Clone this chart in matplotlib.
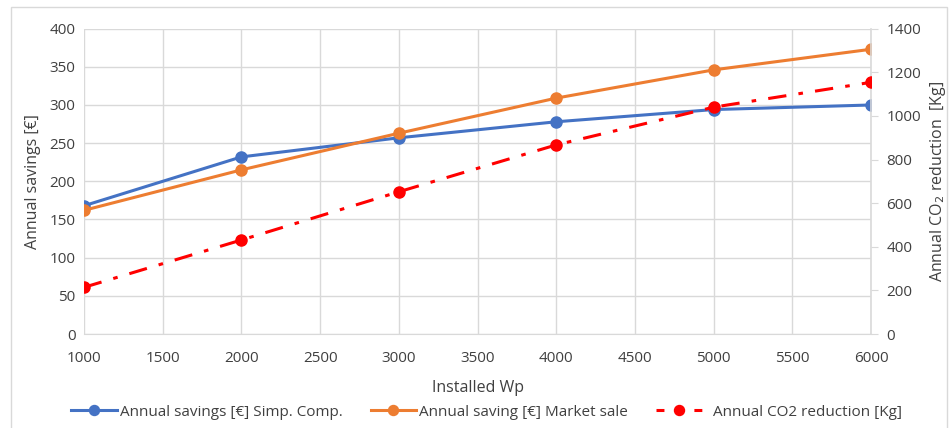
import matplotlib
matplotlib.use("Agg")
import matplotlib.pyplot as plt
from matplotlib.patches import Rectangle
from matplotlib.lines import Line2D

plt.rcParams['font.family'] = ['Open Sans', 'DejaVu Sans']

installed_wp = [1000, 2000, 3000, 4000, 5000, 6000]
savings_simp = [168, 232, 257, 278, 294, 300]
savings_market = [162, 215, 263, 309, 346, 373]
co2_reduction = [214, 431, 652, 867, 1040, 1154]

x_ticks = [1000, 1500, 2000, 2500, 3000, 3500, 4000, 4500, 5000, 5500, 6000]
left_ticks = [0, 50, 100, 150, 200, 250, 300, 350, 400]
right_ticks = [0, 200, 400, 600, 800, 1000, 1200, 1400]

blue = '#4472C4'
orange = '#ED7D31'
red = '#FF0000'
grid_c = '#D9D9D9'
text_c = '#404040'

fig = plt.figure(figsize=(9.51, 4.28), dpi=100)
fig.patches.append(Rectangle((11 / 951, -0.05), 936 / 951, 1.05 - 7 / 428, transform=fig.transFigure,
                             fill=False, edgecolor='#D9D9D9', linewidth=1))
ax = fig.add_axes([0.0883, 0.2196, 0.8277, 0.7135])
ax2 = ax.twinx()

l1, = ax.plot(installed_wp, savings_simp, color=blue, lw=2.2, marker='o', ms=8,
              label='Annual savings [€] Simp. Comp.', zorder=3)
l2, = ax.plot(installed_wp, savings_market, color=orange, lw=2.2, marker='o', ms=8,
              label='Annual saving [€] Market sale', zorder=3)
ax2.plot(installed_wp, co2_reduction, color=red, lw=2.2, marker='o', ms=8,
         linestyle=(0, (6, 4, 1.5, 4)), zorder=3)
l3 = Line2D([], [], color=red, lw=2.2, marker='o', ms=8, linestyle=(0, (2.6, 9.8)),
            label='  Annual CO2 reduction [Kg]')

ax.set_xlim(1000, 6000)
ax.set_ylim(0, 400)
ax2.set_ylim(0, 1400)
ax.set_xticks(x_ticks)
ax.set_yticks(left_ticks)
ax2.set_yticks(right_ticks)

ax.grid(True, color=grid_c, lw=1)
ax.set_axisbelow(True)
for a in (ax, ax2):
    for s in a.spines.values():
        s.set_visible(False)
ax2.spines['right'].set_visible(True)
ax2.spines['right'].set_color(grid_c)
ax2.spines['right'].set_linewidth(1.2)
ax.spines['bottom'].set_visible(True)
ax.spines['bottom'].set_color(grid_c)

ax.tick_params(axis='both', length=0, labelsize=11, labelcolor=text_c, pad=6)
ax.tick_params(axis='x', pad=12)
ax2.tick_params(axis='y', length=5, color=grid_c, labelsize=11, labelcolor=text_c, pad=6)

ax.set_xlabel('Installed Wp', fontsize=11.5, color=text_c, labelpad=10)
ax.set_ylabel('Annual savings [€]', fontsize=11.5, color=text_c, labelpad=6)
ax2.set_ylabel('Annual CO$_2$ reduction  [Kg]', fontsize=11.5, color=text_c, labelpad=5)

fig.legend(handles=[l1, l2, l3], loc='center', bbox_to_anchor=(0.5116, 0.037), ncol=3,
           frameon=False, fontsize=11, labelcolor=text_c, handlelength=3.0,
           handletextpad=0.2, columnspacing=1.8, markerscale=0.9)

fig.savefig('out.png', dpi=100)
